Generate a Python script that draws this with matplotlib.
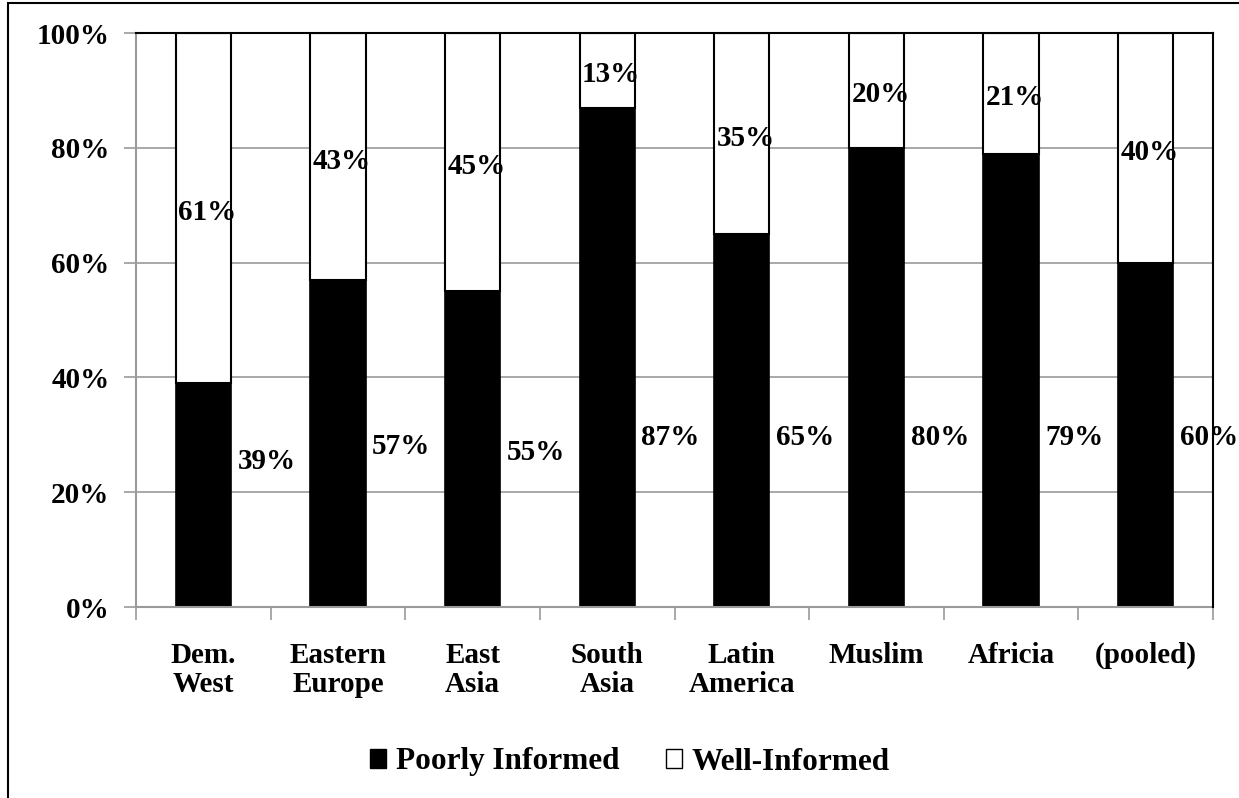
import matplotlib
matplotlib.use("Agg")
import matplotlib.pyplot as plt
from matplotlib.patches import Rectangle

# Data
categories = ["Dem.\nWest", "Eastern\nEurope", "East\nAsia", "South\nAsia",
              "Latin\nAmerica", "Muslim", "Africia", "(pooled)"]
poorly_informed = [39, 57, 55, 87, 65, 80, 79, 60]
well_informed = [61, 43, 45, 13, 35, 20, 21, 40]
y_ticks = [0, 20, 40, 60, 80, 100]
series_names = ["Poorly Informed", "Well-Informed"]

# Vertical placement (in %) of the poorly-informed value labels
low_label_y = [25.3, 27.9, 27.0, 29.6, 29.6, 29.6, 29.6, 29.6]

plt.rcParams["font.family"] = ["Liberation Serif", "DejaVu Serif"]
plt.rcParams["font.weight"] = "bold"
FS = 21

fig = plt.figure(figsize=(12.39, 7.98), dpi=100)
ax = fig.add_axes([136 / 1239, 1 - 607 / 798, (1213 - 136) / 1239, (607 - 33) / 798])

x = list(range(len(categories)))
width = 0.41
ax.bar(x, poorly_informed, width=width, color="black", edgecolor="black",
       linewidth=1.2, zorder=3)
ax.bar(x, well_informed, width=width, bottom=poorly_informed, color="white",
       edgecolor="black", linewidth=1.5, zorder=3)

ax.set_xlim(-0.5, len(categories) - 0.5)
ax.set_ylim(0, 100)
ax.set_yticks(y_ticks)
ax.set_yticklabels([f"{v}%" for v in y_ticks], fontsize=FS, fontweight="bold")
ax.yaxis.grid(True, color="#9a9a9a", linewidth=1.2, zorder=0)
ax.set_axisbelow(True)

# Category ticks at boundaries, labels centered under bars
ax.set_xticks([i - 0.5 for i in range(len(categories) + 1)])
ax.set_xticklabels([])
ax.set_xticks(x, minor=True)
ax.set_xticklabels(categories, minor=True, fontsize=FS, fontweight="bold",
                   va="top", linespacing=1.1)
ax.tick_params(axis="x", which="minor", length=0, pad=25)
ax.tick_params(axis="x", which="major", length=9, width=1.2, color="#9a9a9a",
               direction="out")
ax.tick_params(axis="y", length=9, width=1.2, color="#9a9a9a", pad=10,
               direction="out")

for side in ["left", "bottom"]:
    ax.spines[side].set_color("#9a9a9a")
    ax.spines[side].set_linewidth(1.5)
    ax.spines[side].set_zorder(4)
for side in ["top", "right"]:
    ax.spines[side].set_color("black")
    ax.spines[side].set_linewidth(1.5)
    ax.spines[side].set_zorder(5)

# Value labels
for i, (p, w) in enumerate(zip(poorly_informed, well_informed)):
    ax.text(i + 0.47, low_label_y[i], f"{p}%", ha="center", va="center",
            fontsize=FS, fontweight="bold", zorder=6, clip_on=False)
    ax.text(i + 0.03, p + w / 2 - 0.8, f"{w}%", ha="center", va="center",
            fontsize=FS, fontweight="bold", zorder=6)

# Legend
handles = [
    Rectangle((0, 0), 1, 1, facecolor="black", edgecolor="black"),
    Rectangle((0, 0), 1, 1, facecolor="white", edgecolor="black", linewidth=1.0),
]
fig.legend(handles, series_names, loc="center", bbox_to_anchor=(630 / 1239, 1 - 762 / 798),
           ncol=2, frameon=False, prop={"size": 22.5, "weight": "bold"},
           handlelength=0.52, handleheight=0.52, handletextpad=0.3,
           columnspacing=1.5)

# Outer chart frame
frame = Rectangle((8 / 1239, -0.05), 1.1, 1 - 3 / 798 + 0.05, transform=fig.transFigure,
                  fill=False, edgecolor="black", linewidth=1.5)
fig.patches.append(frame)

fig.savefig("out.png", dpi=100)
